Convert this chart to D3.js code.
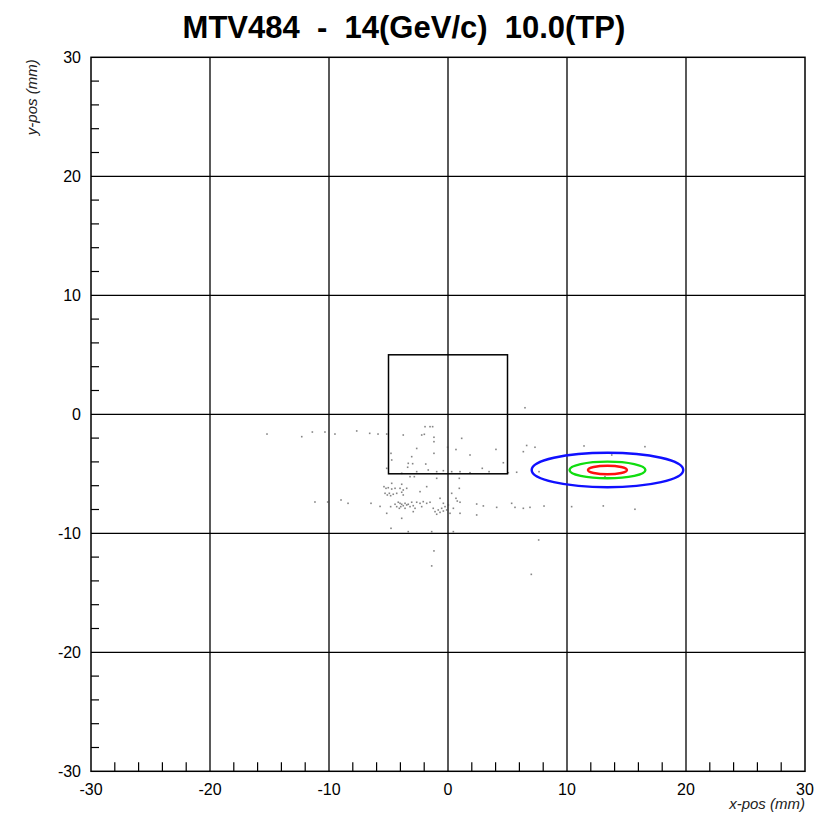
<!DOCTYPE html>
<html>
<head>
<meta charset="utf-8">
<script src="https://cdn.jsdelivr.net/npm/d3@7"></script>
<style>
  html, body { margin: 0; padding: 0; background: #fff; }
  svg { display: block; }
  text { font-family: "Liberation Sans", Arial, sans-serif; }
</style>
</head>
<body>
<svg id="chart" width="827" height="816"></svg>
<script>
// Beam position plot: hits (mm) with reference box and 1/2/3-sigma beam ellipses
const titleText = "MTV484  -  14(GeV/c)  10.0(TP)";
const xLabel = "x-pos (mm)";
const yLabel = "y-pos (mm)";
const xDomain = [-30, 30];
const yDomain = [-30, 30];
const majorTicks = [-30, -20, -10, 0, 10, 20, 30];
const minorTicks = [-28, -26, -24, -22, -18, -16, -14, -12, -8, -6, -4, -2, 2, 4, 6, 8, 12, 14, 16, 18, 22, 24, 26, 28];

// reference box corners (mm)
const boxX = [-5, 5];
const boxY = [-5, 5];

// beam ellipses: centre and semi-axes (mm)
const ellipseCx = [13.4, 13.4, 13.4];
const ellipseCy = [-4.68, -4.68, -4.68];
const ellipseRx = [6.37, 3.19, 1.64];
const ellipseRy = [1.45, 0.70, 0.36];
const ellipseColor = ["#1010ff", "#10dd10", "#ff1010"];

// hit positions (mm)
const hitX = [-15.21,-12.29,-11.40,-10.34,-9.50,-7.67,-6.58,-5.88,-5.15,-3.76,-2.21,-1.93,-1.51,-1.29,-1.99,-1.18,-1.18,-2.63,-1.18,-4.79,
  -4.73,-3.05,-3.34,-2.97,-3.39,-1.87,-0.03,0.67,1.15,1.85,4.03,4.65,2.88,3.45,-5.15,-3.89,-2.63,-1.66,-0.95,-0.39,
  0.31,1.01,1.85,5.07,5.77,6.61,6.33,7.31,7.65,6.47,11.43,16.55,13.76,13.19,10.39,13.05,15.71,-3.19,-2.83,-0.95,
  0.95,-5.38,-5.21,-5.02,-4.73,-4.45,-4.03,-3.76,-5.29,-5.10,-4.93,-4.82,-4.60,-4.31,-3.89,-3.76,-3.47,-4.73,-3.89,-2.35,
  -1.79,-4.18,-4.03,-3.89,-3.76,-3.61,-3.47,-3.34,-3.19,-3.05,-2.92,-3.97,-4.09,-3.61,-4.31,-4.45,-2.77,-2.63,-2.35,-2.08,
  -1.79,-1.51,-2.21,-4.82,-5.15,-5.71,-3.89,-2.92,-4.79,-1.24,-1.09,-0.82,-0.67,-0.53,-0.39,-0.25,-0.11,0.03,-0.39,-0.67,
  -0.95,0.17,0.45,0.67,0.78,1.01,0.95,0.31,1.01,0.45,-3.34,-1.37,2.41,2.97,4.09,5.35,5.63,6.33,6.89,8.07,
  2.41,-11.18,-10.11,-8.99,-8.40,-6.47,-1.18,-1.37,7.62,7.00];
const hitY = [-1.66,-1.88,-1.49,-1.49,-1.66,-1.40,-1.60,-1.66,-1.66,-1.74,-1.74,-1.04,-1.04,-1.04,-1.68,-1.93,-2.30,-2.87,-3.28,-3.28,
  -3.84,-3.56,-4.12,-4.15,-4.45,-4.18,-2.77,-2.96,-2.02,-3.42,-2.95,-4.07,-4.54,-4.82,-4.54,-4.96,-4.82,-4.68,-4.82,-4.74,
  -4.82,-4.82,-4.91,-4.91,-4.87,-2.62,-3.14,-2.77,-4.82,0.55,-2.66,-2.72,-3.42,-5.24,-7.76,-7.70,-7.98,-5.24,-5.24,-5.38,
  -5.38,-6.08,-6.22,-6.17,-6.28,-6.22,-6.22,-6.36,-6.64,-6.78,-6.64,-6.84,-6.72,-6.64,-6.55,-6.78,-6.22,-5.80,-5.88,-6.50,
  -6.08,-7.39,-7.48,-7.56,-7.68,-7.48,-7.62,-7.56,-7.76,-7.39,-7.68,-7.76,-7.90,-7.90,-7.76,-7.56,-7.90,-7.39,-7.48,-7.34,
  -7.48,-7.39,-7.76,-7.76,-8.32,-7.74,-8.74,-8.18,-9.58,-7.90,-8.18,-8.04,-8.24,-7.90,-8.13,-7.76,-8.04,-7.62,-7.48,-7.06,
  -8.40,-8.32,-7.90,-7.06,-7.29,-7.39,-6.22,-6.64,-8.32,-9.86,-9.86,-9.86,-7.54,-7.70,-7.82,-7.48,-7.82,-7.90,-7.82,-7.71,
  -8.46,-7.37,-7.37,-7.20,-7.48,-7.48,-11.48,-12.74,-10.56,-13.45];

const plot = { left: 91, right: 805, top: 57.3, bottom: 771.3 };

const svg = d3.select("#chart");
const x = d3.scaleLinear().domain(xDomain).range([plot.left, plot.right]);
const y = d3.scaleLinear().domain(yDomain).range([plot.bottom, plot.top]);

// title
svg.append("text")
  .attr("x", 404).attr("y", 38)
  .attr("text-anchor", "middle")
  .style("white-space", "pre")
  .attr("font-size", 31).attr("font-weight", "bold")
  .attr("fill", "#000")
  .text(titleText);

// grid lines at major ticks
const grid = svg.append("g").attr("stroke", "#000").attr("stroke-width", 1.3);
grid.selectAll("line.gx").data(majorTicks.slice(1, -1)).join("line")
  .attr("class", "gx")
  .attr("x1", d => x(d)).attr("x2", d => x(d))
  .attr("y1", plot.top).attr("y2", plot.bottom);
grid.selectAll("line.gy").data(majorTicks.slice(1, -1)).join("line")
  .attr("class", "gy")
  .attr("y1", d => y(d)).attr("y2", d => y(d))
  .attr("x1", plot.left).attr("x2", plot.right);

// minor ticks: left side and bottom, pointing inward
const ticks = svg.append("g").attr("stroke", "#000").attr("stroke-width", 1.2);
ticks.selectAll("line.ty").data(minorTicks).join("line")
  .attr("class", "ty")
  .attr("x1", plot.left).attr("x2", plot.left + 8)
  .attr("y1", d => y(d)).attr("y2", d => y(d));
ticks.selectAll("line.tx").data(minorTicks).join("line")
  .attr("class", "tx")
  .attr("y1", plot.bottom).attr("y2", plot.bottom - 9)
  .attr("x1", d => x(d)).attr("x2", d => x(d));

// hits
const hits = d3.range(hitX.length).map(i => ({ x: hitX[i], y: hitY[i] }));
svg.append("g").selectAll("rect").data(hits).join("rect")
  .attr("x", d => x(d.x) - 0.8).attr("y", d => y(d.y) - 0.8)
  .attr("width", 1.6).attr("height", 1.6)
  .attr("fill", "#444").attr("fill-opacity", 0.65);

// reference box
svg.append("rect")
  .attr("x", x(boxX[0])).attr("y", y(boxY[1]))
  .attr("width", x(boxX[1]) - x(boxX[0]))
  .attr("height", y(boxY[0]) - y(boxY[1]))
  .attr("fill", "none").attr("stroke", "#000").attr("stroke-width", 1.5);

// beam ellipses
const ell = d3.range(ellipseRx.length).map(i => ({
  cx: ellipseCx[i], cy: ellipseCy[i], rx: ellipseRx[i], ry: ellipseRy[i], c: ellipseColor[i]
}));
svg.append("g").selectAll("ellipse").data(ell).join("ellipse")
  .attr("cx", d => x(d.cx)).attr("cy", d => y(d.cy))
  .attr("rx", d => x(d.cx + d.rx) - x(d.cx))
  .attr("ry", d => y(d.cy - d.ry) - y(d.cy))
  .attr("fill", "none").attr("stroke", d => d.c).attr("stroke-width", 2.4);

// frame
svg.append("rect")
  .attr("x", plot.left).attr("y", plot.top)
  .attr("width", plot.right - plot.left).attr("height", plot.bottom - plot.top)
  .attr("fill", "none").attr("stroke", "#000").attr("stroke-width", 1.5);

// tick labels
svg.append("g").selectAll("text").data(majorTicks).join("text")
  .attr("x", d => x(d)).attr("y", plot.bottom + 24)
  .attr("text-anchor", "middle").attr("font-size", 16).attr("fill", "#000")
  .text(d => d);
svg.append("g").selectAll("text").data(majorTicks).join("text")
  .attr("x", plot.left - 10).attr("y", d => y(d) + 5.5)
  .attr("text-anchor", "end").attr("font-size", 16).attr("fill", "#000")
  .text(d => d);

// axis titles
svg.append("text")
  .attr("x", plot.right).attr("y", plot.bottom + 38)
  .attr("text-anchor", "end").attr("font-size", 15).attr("font-style", "italic")
  .attr("fill", "#222")
  .text(xLabel);
svg.append("text")
  .attr("transform", `translate(37,${plot.top + 2}) rotate(-90)`)
  .attr("text-anchor", "end").attr("font-size", 15).attr("font-style", "italic")
  .attr("fill", "#222")
  .text(yLabel);
</script>
</body>
</html>
